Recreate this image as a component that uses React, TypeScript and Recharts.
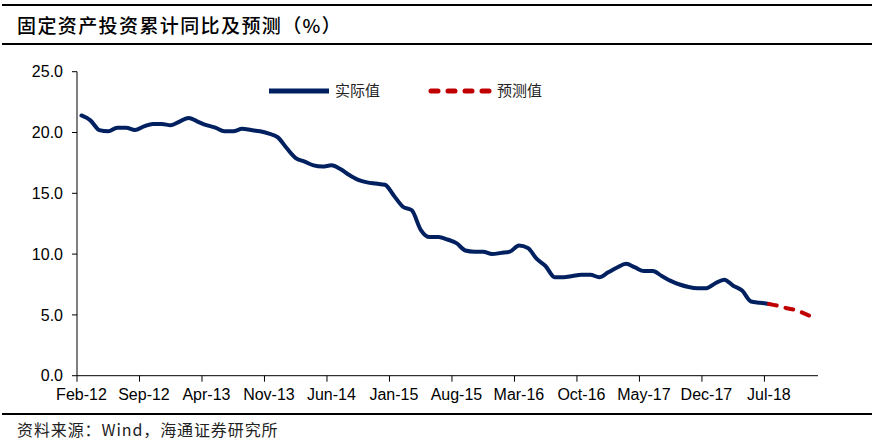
import React from 'react'
import { LineChart, Line, XAxis, YAxis } from 'recharts'

// month categories, Feb-12 .. Dec-18
const categories = [
  'Feb-12', 'Mar-12', 'Apr-12', 'May-12', 'Jun-12', 'Jul-12', 'Aug-12', 'Sep-12', 'Oct-12', 'Nov-12', 'Dec-12',
  'Jan-13', 'Feb-13', 'Mar-13', 'Apr-13', 'May-13', 'Jun-13', 'Jul-13', 'Aug-13', 'Sep-13', 'Oct-13', 'Nov-13', 'Dec-13',
  'Jan-14', 'Feb-14', 'Mar-14', 'Apr-14', 'May-14', 'Jun-14', 'Jul-14', 'Aug-14', 'Sep-14', 'Oct-14', 'Nov-14', 'Dec-14',
  'Jan-15', 'Feb-15', 'Mar-15', 'Apr-15', 'May-15', 'Jun-15', 'Jul-15', 'Aug-15', 'Sep-15', 'Oct-15', 'Nov-15', 'Dec-15',
  'Jan-16', 'Feb-16', 'Mar-16', 'Apr-16', 'May-16', 'Jun-16', 'Jul-16', 'Aug-16', 'Sep-16', 'Oct-16', 'Nov-16', 'Dec-16',
  'Jan-17', 'Feb-17', 'Mar-17', 'Apr-17', 'May-17', 'Jun-17', 'Jul-17', 'Aug-17', 'Sep-17', 'Oct-17', 'Nov-17', 'Dec-17',
  'Jan-18', 'Feb-18', 'Mar-18', 'Apr-18', 'May-18', 'Jun-18', 'Jul-18', 'Aug-18', 'Sep-18', 'Oct-18', 'Nov-18', 'Dec-18',
]

// 实际值, Feb-12 .. Jul-18
const actual = [
  21.4, 21.0, 20.2, 20.1, 20.4, 20.4, 20.2, 20.5, 20.7, 20.7, 20.6,
  20.9, 21.2, 20.9, 20.6, 20.4, 20.1, 20.1, 20.3, 20.2, 20.1, 19.9, 19.6,
  18.7, 17.9, 17.6, 17.3, 17.2, 17.3, 17.0, 16.5, 16.1, 15.9, 15.8, 15.7,
  14.8, 13.9, 13.6, 12.0, 11.4, 11.4, 11.2, 10.9, 10.3, 10.2, 10.2, 10.0,
  10.1, 10.2, 10.7, 10.5, 9.6, 9.0, 8.1, 8.1, 8.2, 8.3, 8.3, 8.1,
  8.5, 8.9, 9.2, 8.9, 8.6, 8.6, 8.2, 7.8, 7.5, 7.3, 7.2, 7.2,
  7.6, 7.9, 7.4, 7.0, 6.1, 6.0, 5.9,
]

// 预测值, Jul-18 .. Dec-18
const forecastStart = 77
const forecast = [5.9, 5.75, 5.55, 5.4, 5.1, 4.8]

const yTicks = [0, 5, 10, 15, 20, 25]
const xTickLabels = ['Feb-12', 'Sep-12', 'Apr-13', 'Nov-13', 'Jun-14', 'Jan-15', 'Aug-15', 'Mar-16', 'Oct-16', 'May-17', 'Dec-17', 'Jul-18']

const data = categories.map((month, i) => ({
  idx: i,
  month,
  actual: i < actual.length ? actual[i] : null,
  forecast: i >= forecastStart ? forecast[i - forecastStart] : null,
}))

// tick marks sit on the left edge of each labelled month
const xTicks = xTickLabels.map(l => categories.indexOf(l) - 0.5)

const W = 883
const H = 443
const M = { top: 71.7, right: 65, bottom: 37.3, left: 0 }
const Y_AXIS_W = 77
const BAND = (W - M.left - M.right - Y_AXIS_W) / categories.length

const NAVY = '#002060'
const RED = '#C00000'
const AXIS_FONT = '"Liberation Sans", Arial, sans-serif'
const CJK_FONT = '"Noto Sans CJK SC", "Noto Sans", sans-serif'

const XTick = (props: any) => {
  const { x, y, payload } = props
  const label = categories[Math.round(payload.value + 0.5)]
  return (
    <g>
      <line x1={x} x2={x} y1={y - 13} y2={y - 7} stroke="#000" strokeWidth={1} />
      <text x={x + BAND / 2} y={y} dy="0.71em" textAnchor="middle" fill="#000" fontSize={16} fontFamily={AXIS_FONT}>
        {label}
      </text>
    </g>
  )
}

const LegendBox = () => (
  <svg width={290} height={24} style={{ display: 'block' }}>
    <line x1={4} x2={64} y1={12} y2={12} stroke={NAVY} strokeWidth={5} />
    <text x={70} y={12} dy="0.35em" fontSize={15} fill="#222" fontFamily={CJK_FONT}>实际值</text>
    <line x1={166} x2={224} y1={12} y2={12} stroke={RED} strokeWidth={5} strokeDasharray="7 10" strokeLinecap="round" />
    <text x={232} y={12} dy="0.35em" fontSize={15} fill="#222" fontFamily={CJK_FONT}>预测值</text>
  </svg>
)

const rule = (top: number): React.CSSProperties => ({
  position: 'absolute', left: 2, width: 870, top, height: 2, background: '#000',
})

const App: React.FC = () => (
  <div style={{ position: 'fixed', left: 0, top: 0, width: W, height: H, background: '#fff', overflow: 'hidden' }}>
    <div style={rule(3.5)} />
    <div style={{ position: 'absolute', left: 17, top: 11, fontSize: 19, fontWeight: 500, letterSpacing: 1.4, fontFamily: CJK_FONT, color: '#000', lineHeight: '28px' }}>
      固定资产投资累计同比及预测（%）
    </div>
    <div style={rule(42.5)} />
    <div style={{ position: 'absolute', left: 0, top: 0 }}>
      <LineChart width={W} height={H} data={data} margin={M}>
        <XAxis
          dataKey="idx"
          type="number"
          domain={[-0.5, categories.length - 0.5]}
          ticks={xTicks}
          interval={0}
          tick={<XTick />}
          tickLine={false}
          tickSize={6}
          tickMargin={7}
          height={30}
          axisLine={{ stroke: '#000' }}
          allowDecimals
        />
        <YAxis
          domain={[0, 25]}
          ticks={yTicks}
          interval={0}
          width={Y_AXIS_W}
          tickFormatter={(v: number) => v.toFixed(1)}
          tick={{ fill: '#000', fontSize: 16, fontFamily: AXIS_FONT }}
          tickSize={5}
          tickMargin={9}
          axisLine={{ stroke: '#000' }}
          tickLine={{ stroke: '#000' }}
        />
        <Line
          type="monotone"
          dataKey="actual"
          stroke={NAVY}
          strokeWidth={4}
          dot={false}
          activeDot={false}
          strokeLinejoin="round"
          strokeLinecap="round"
          connectNulls={false}
          isAnimationActive={false}
        />
        <Line
          type="monotone"
          dataKey="forecast"
          stroke={RED}
          strokeWidth={4}
          strokeDasharray="8 9"
          strokeLinecap="round"
          dot={false}
          activeDot={false}
          isAnimationActive={false}
        />
      </LineChart>
    </div>
    <div style={{ position: 'absolute', left: 265, top: 79 }}>
      <LegendBox />
    </div>
    <div style={rule(412.5)} />
    <div style={{ position: 'absolute', left: 17, top: 418, fontSize: 16, letterSpacing: 0.9, fontFamily: CJK_FONT, color: '#222', lineHeight: '22px' }}>
      资料来源：Wind，海通证券研究所
    </div>
  </div>
)

export default App
